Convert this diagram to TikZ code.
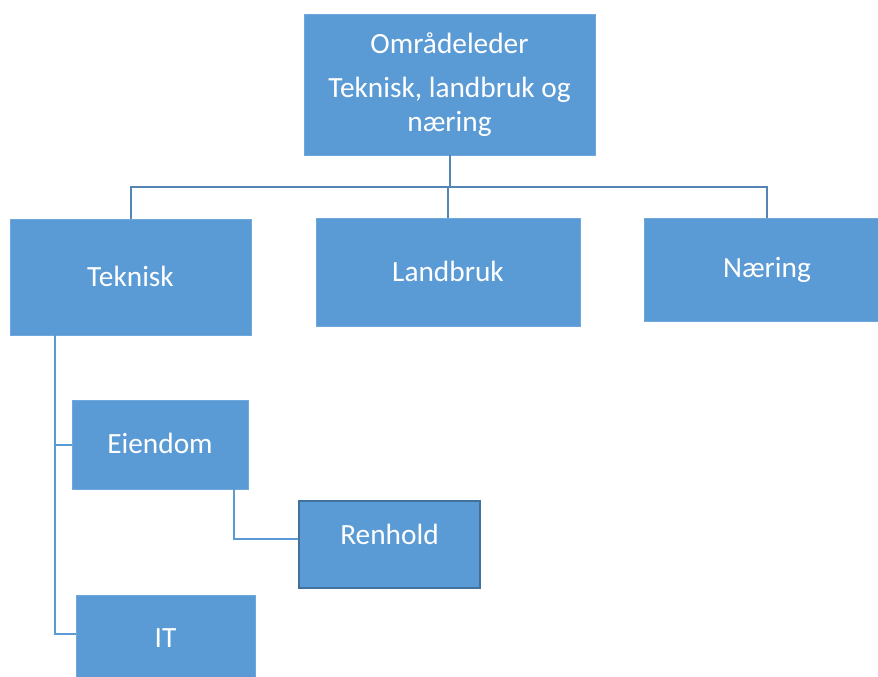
\documentclass[tikz,border=0pt]{standalone}
\usepackage{fontspec}
\setmainfont{Carlito}
\definecolor{boxblue}{HTML}{5B9BD5}
\definecolor{boxedge}{HTML}{6FA8DC}
\definecolor{darkedge}{HTML}{41719C}
\definecolor{linetop}{HTML}{5585B5}
\definecolor{linelow}{HTML}{5B9BD5}
\begin{document}
\begin{tikzpicture}[x=0.75pt,y=-0.75pt,
  box/.style={fill=boxblue,draw=boxedge,line width=0.6pt,text=white,inner sep=0pt,
    font=\fontsize{22}{25}\selectfont,align=center},
  conn/.style={draw=linelow,line width=1.5pt},
  conntop/.style={draw=linetop,line width=1.5pt}]
\useasboundingbox (0,0) rectangle (878,677);
% boxes
\node[box,minimum width={291*0.75pt},minimum height={141*0.75pt}] (top) at (449.5,84.5)
  {Områdeleder\\[8pt]Teknisk, landbruk og\\næring};
\node[box,minimum width={241*0.75pt},minimum height={116*0.75pt}] (tek) at (130.5,277) {\raisebox{1pt}{Teknisk}};
\node[box,minimum width={264*0.75pt},minimum height={108*0.75pt}] (lan) at (448,272) {\raisebox{1pt}{Landbruk}};
\node[box,minimum width={246*0.75pt},minimum height={103*0.75pt}] (nae) at (767,269.5) {Næring};
\node[box,minimum width={176*0.75pt},minimum height={89*0.75pt}] (eie) at (160,444.5) {\raisebox{2pt}{Eiendom}};
\node[box,draw=darkedge,line width=1pt,minimum width={181*0.75pt},minimum height={87*0.75pt}] (ren) at (389.5,544.5) {\raisebox{16pt}{Renhold}};
\node[box,minimum width={179*0.75pt},minimum height={86*0.75pt}] (it) at (165.5,638) {IT};
% connectors
\coordinate (bus) at (450,187);
\draw[conntop] (top.south) -- (top.south |- bus);
\draw[conntop] (tek.north) -- (tek.north |- bus) -- (nae.north |- bus) -- (nae.north);
\draw[conntop] (lan.north) -- (lan.north |- bus);
\coordinate (trunk) at ([xshift={45*0.75pt}]tek.south west);
\draw[conn] (trunk) |- (eie.west);
\draw[conn] (trunk) |- ([yshift={4*0.75pt}]it.west);
\draw[conn] ([xshift={-14*0.75pt}]eie.south east) |- ([yshift={6*0.75pt}]ren.west);
\end{tikzpicture}
\end{document}
